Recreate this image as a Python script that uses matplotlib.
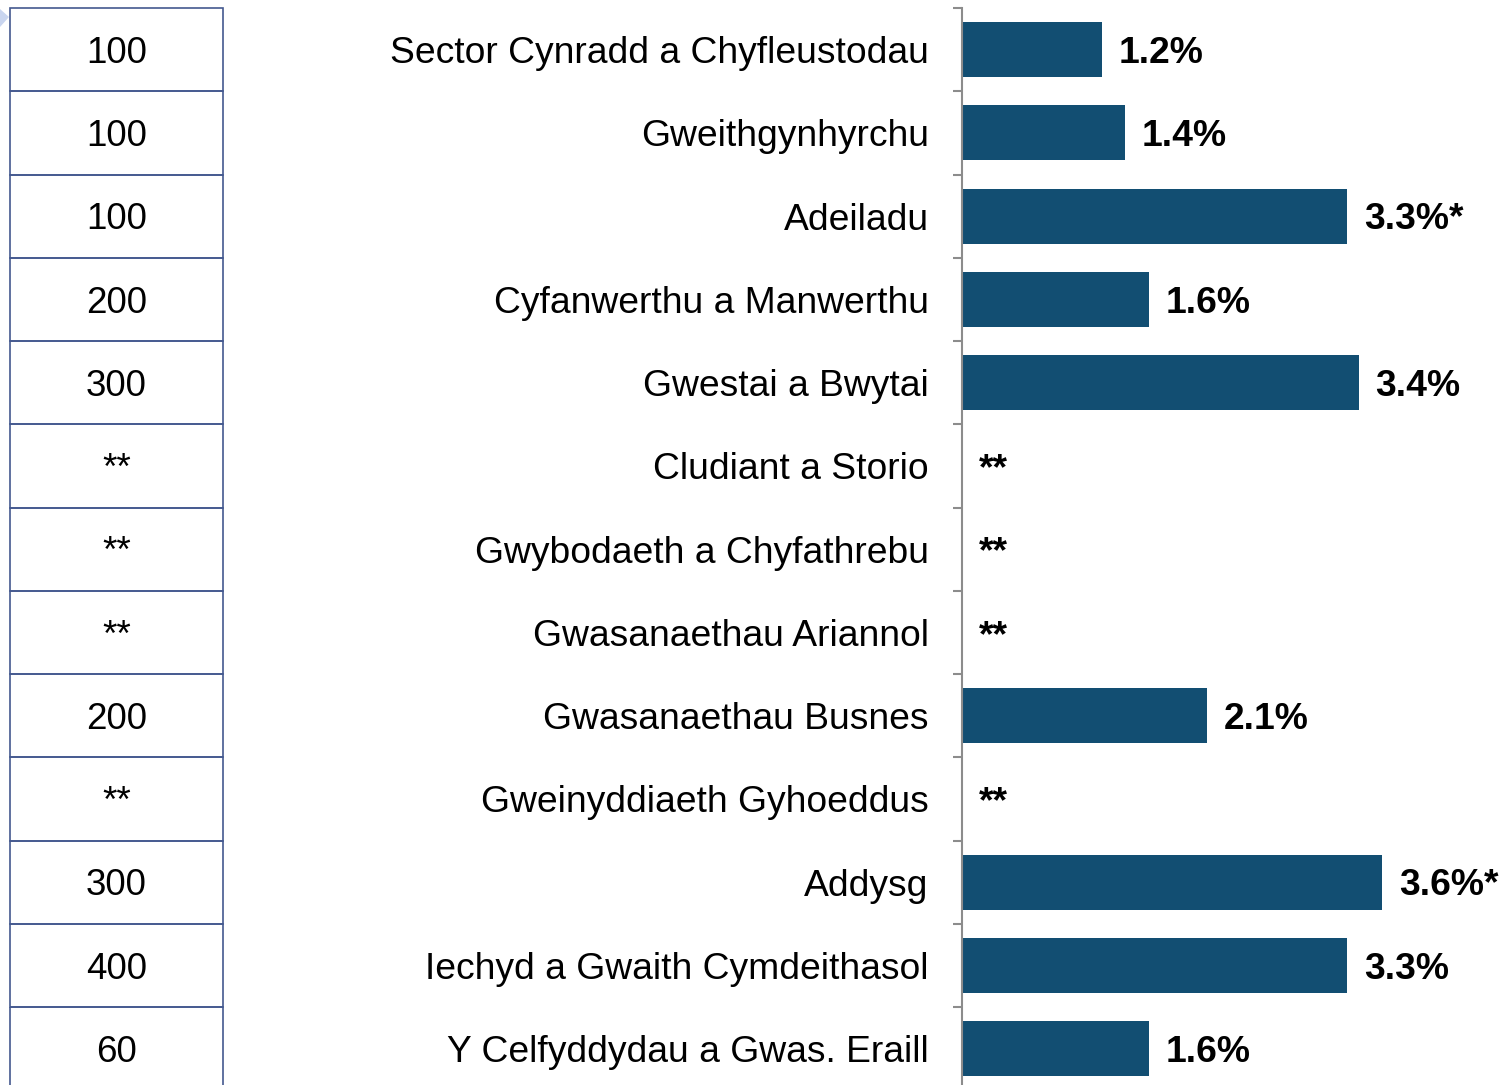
import matplotlib
matplotlib.use("Agg")
import matplotlib.pyplot as plt
from matplotlib.patches import Polygon, Rectangle

plt.rcParams["font.family"] = ["Liberation Sans", "DejaVu Sans"]

# --- data ---------------------------------------------------------------
sectors = [
    "Sector Cynradd a Chyfleustodau",
    "Gweithgynhyrchu",
    "Adeiladu",
    "Cyfanwerthu a Manwerthu",
    "Gwestai a Bwytai",
    "Cludiant a Storio",
    "Gwybodaeth a Chyfathrebu",
    "Gwasanaethau Ariannol",
    "Gwasanaethau Busnes",
    "Gweinyddiaeth Gyhoeddus",
    "Addysg",
    "Iechyd a Gwaith Cymdeithasol",
    "Y Celfyddydau a Gwas. Eraill",
]
rates = [1.2, 1.4, 3.3, 1.6, 3.4, None, None, None, 2.1, None, 3.6, 3.3, 1.6]
rate_labels = ["1.2%", "1.4%", "3.3%*", "1.6%", "3.4%", "**", "**", "**",
               "2.1%", "**", "3.6%*", "3.3%", "1.6%"]
counts = ["100", "100", "100", "200", "300", "**", "**", "**",
          "200", "**", "300", "400", "60"]

BAR = "#124e72"
GRID = "#8c8c8c"
BOX = "#44598f"
W, H = 1501, 1085
FS = 26.8
DROP = -FS * 0.716 / 2   # baseline shift so caps sit centred on the row

fig = plt.figure(figsize=(W / 100, H / 100), dpi=100)
top_px, bot_px = 8, 8 + 83.25 * len(sectors)
ax_b = 1 - bot_px / H
ax_h = (bot_px - top_px) / H

# --- bars ---------------------------------------------------------------
ax = fig.add_axes([962 / W, ax_b, (W - 962) / W, ax_h])
n = len(sectors)
ypos = list(range(n))
vals = [v if v is not None else 0 for v in rates]
ax.barh(ypos, vals, height=0.66, color=BAR)
ax.set_xlim(0, (W - 962) / 116.7)
ax.set_ylim(n - 0.5, -0.5)
for y, v, lab in zip(ypos, rates, rate_labels):
    x = v if v is not None else 0
    ax.annotate(lab, (x, y), xytext=(12, DROP), textcoords="offset points",
                ha="left", va="baseline", fontsize=FS, fontweight="bold")
for s in ["top", "right", "bottom"]:
    ax.spines[s].set_visible(False)
ax.spines["left"].set_color(GRID)
ax.spines["left"].set_linewidth(1.5)
ax.set_xticks([])
ax.set_yticks([i - 0.5 for i in range(n + 1)])
ax.set_yticklabels([])
ax.set_yticks(ypos, minor=True)
ax.set_yticklabels(sectors, minor=True)
ax.tick_params(axis="y", which="major", length=6.5, width=1.5, color=GRID)
ax.tick_params(axis="y", which="minor", length=0, pad=24, labelsize=FS)

# --- count table --------------------------------------------------------
tb = fig.add_axes([10 / W, ax_b, 213 / W, ax_h])
tb.set_xlim(0, 1)
tb.set_ylim(n - 0.5, -0.5)
tb.axis("off")
for i, c in enumerate(counts):
    tb.add_patch(Rectangle((0, i - 0.5), 1, 1, fill=False, edgecolor=BOX,
                           linewidth=1.2, clip_on=False))
    tb.annotate(c, (0.5, i), xytext=(0, DROP), textcoords="offset points",
                ha="center", va="baseline", fontsize=26.5)

# small chevron at the top-left corner
fig.patches.append(Polygon([(0, 1 - 9 / H), (9 / W, 1 - 17 / H), (0, 1 - 27 / H)],
                           closed=True, transform=fig.transFigure,
                           facecolor="#c9d5ef", edgecolor="none"))

fig.savefig("out.png", dpi=100)
